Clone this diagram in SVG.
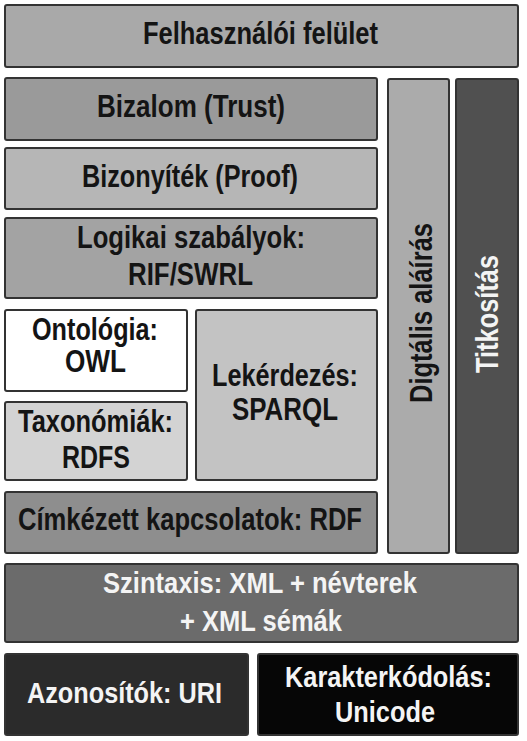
<svg xmlns="http://www.w3.org/2000/svg" width="527" height="741" viewBox="0 0 527 741">
<style>
rect.b{stroke:#333;stroke-width:2;}
text{font-family:"Liberation Sans",Arial,sans-serif;font-weight:bold;font-size:31px;text-anchor:middle;}
.d{fill:#141414;}
.w{fill:#f4f4f4;font-size:29px;}
</style>
<rect width="527" height="741" fill="#ffffff"/>
<g id="felhasznaloi">
<rect class="b" x="5" y="5" width="513" height="62" rx="2" fill="#a9a9a9"/>
<text class="d" x="260.5" y="44" textLength="235" lengthAdjust="spacingAndGlyphs">Felhasználói felület</text>
</g>
<g id="bizalom">
<rect class="b" x="5" y="78" width="372" height="62" rx="2" fill="#9a9a9a"/>
<text class="d" x="191" y="117" textLength="188" lengthAdjust="spacingAndGlyphs">Bizalom (Trust)</text>
</g>
<g id="bizonyitek">
<rect class="b" x="5" y="148" width="372" height="61" rx="2" fill="#b6b6b6"/>
<text class="d" x="190" y="187" textLength="216" lengthAdjust="spacingAndGlyphs">Bizonyíték (Proof)</text>
</g>
<g id="logikai">
<rect class="b" x="5" y="218" width="372" height="80" rx="2" fill="#a3a3a3"/>
<text class="d" x="191" y="248" textLength="228" lengthAdjust="spacingAndGlyphs">Logikai szabályok:</text>
<text class="d" x="190.5" y="285" textLength="125" lengthAdjust="spacingAndGlyphs">RIF/SWRL</text>
</g>
<g id="ontologia">
<rect class="b" x="5" y="310" width="182" height="81" rx="2" fill="#ffffff"/>
<text class="d" x="95" y="340" textLength="126" lengthAdjust="spacingAndGlyphs">Ontológia:</text>
<text class="d" x="95.5" y="372" textLength="61" lengthAdjust="spacingAndGlyphs">OWL</text>
</g>
<g id="taxonomiak">
<rect class="b" x="5" y="402" width="182" height="78" rx="2" fill="#d3d3d3"/>
<text class="d" x="95.5" y="432" textLength="155" lengthAdjust="spacingAndGlyphs">Taxonómiák:</text>
<text class="d" x="96" y="468" textLength="68" lengthAdjust="spacingAndGlyphs">RDFS</text>
</g>
<g id="lekerdezes">
<rect class="b" x="196" y="310" width="181" height="170" rx="2" fill="#c3c3c3"/>
<text class="d" x="285" y="386" textLength="146" lengthAdjust="spacingAndGlyphs">Lekérdezés:</text>
<text class="d" x="285" y="420" textLength="106" lengthAdjust="spacingAndGlyphs">SPARQL</text>
</g>
<g id="cimkezett">
<rect class="b" x="5" y="492" width="372" height="61" rx="2" fill="#8e8e8e"/>
<text class="d" x="190" y="530" textLength="344" lengthAdjust="spacingAndGlyphs">Címkézett kapcsolatok: RDF</text>
</g>
<g id="digitalis">
<rect class="b" x="388" y="79" width="61" height="474" rx="2" fill="#ababab"/>
<text class="d" transform="translate(432,313) rotate(-90)" x="0" y="0" textLength="180" lengthAdjust="spacingAndGlyphs">Digtális aláírás</text>
</g>
<g id="titkositas">
<rect class="b" x="456" y="79" width="62" height="474" rx="2" fill="#505050"/>
<text class="w" transform="translate(498,314) rotate(-90)" x="0" y="0" textLength="118" lengthAdjust="spacingAndGlyphs" style="font-size:31px">Titkosítás</text>
</g>
<g id="szintaxis">
<rect class="b" x="5" y="564" width="513" height="78" rx="2" fill="#6b6b6b"/>
<text class="w" x="260" y="593" textLength="314" lengthAdjust="spacingAndGlyphs">Szintaxis: XML + névterek</text>
<text class="w" x="261" y="631" textLength="162" lengthAdjust="spacingAndGlyphs">+ XML sémák</text>
</g>
<g id="azonositok">
<rect class="b" x="5" y="654" width="243" height="81" rx="2" fill="#2b2b2b"/>
<text class="w" x="124.5" y="703" textLength="195" lengthAdjust="spacingAndGlyphs" style="font-size:30px">Azonosítók: URI</text>
</g>
<g id="karakterkodolas">
<rect class="b" x="258" y="654" width="260" height="81" rx="2" fill="#060606"/>
<text class="w" x="388.5" y="687" textLength="207" lengthAdjust="spacingAndGlyphs" style="font-size:29px">Karakterkódolás:</text>
<text class="w" x="385" y="722" textLength="100" lengthAdjust="spacingAndGlyphs" style="font-size:30px">Unicode</text>
</g>
<g id="connectors"/>
</svg>
